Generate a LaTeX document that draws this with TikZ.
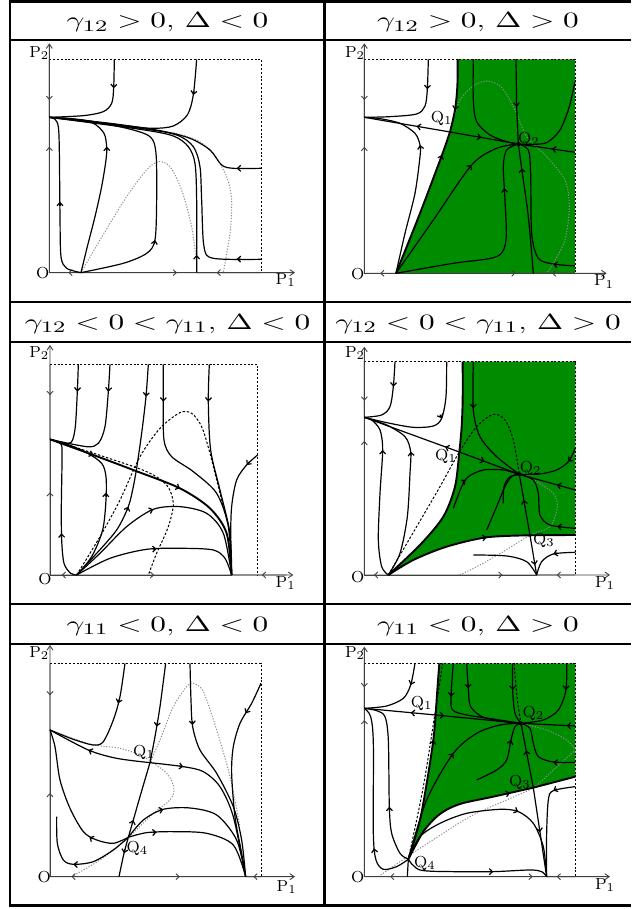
\documentclass[tikz,border=0pt]{standalone}
\usepackage{amsmath}
\usetikzlibrary{arrows.meta,decorations.markings}
\definecolor{basingreen}{RGB}{0,140,0}

\begin{document}
\begin{tikzpicture}[x=0.5pt,y=-0.5pt,
    rule/.style={line width=1.3pt},
    axis/.style={black!75,line width=0.45pt},
    axistip/.style={axis,-{Straight Barb[length=2.2pt,width=3pt]}},
    frame/.style={line width=0.4pt,dash pattern=on 1pt off 0.9pt},
    traj/.style={line width=0.6pt},
    sep/.style={line width=0.95pt},
    nullg/.style={black!45,line width=0.5pt,dash pattern=on 0.6pt off 0.8pt},
    nullk/.style={line width=0.5pt,dash pattern=on 1.2pt off 0.9pt},
    basin/.style={fill=basingreen},
    fw/.style={postaction={decorate,decoration={markings,
        mark=at position #1 with {\arrow{Straight Barb[length=1.6pt,width=3pt]}}}}},
    flowtip/.style={line width=0.6pt,-{Straight Barb[length=1.6pt,width=3pt]}},
    head/.style={font=\fontsize{11}{13}\selectfont,xscale=1.43,anchor=base},
    lbl/.style={font=\fontsize{8}{9}\selectfont,inner sep=0.5pt},
    eqpt/.style={circle,fill,inner sep=0pt,minimum size=2.2pt}
  ]
  \useasboundingbox (0,0) rectangle (631,909);

  % table
  \draw[rule] (10,0) -- (10,907);
  \draw[rule] (324.5,0) -- (324.5,907);
  \foreach \y in {1.5,40,302,342,604,644,905.5}
    \draw[rule] (10,\y) -- (631,\y);

  \node[head] (h1) at (167.5,28) {$\gamma_{12}>0$, $\Delta<0$};
  \node[head] (h2) at (478,28) {$\gamma_{12}>0$, $\Delta>0$};
  \node[head] (h3) at (167.5,329) {$\gamma_{12}<0<\gamma_{11}$, $\Delta<0$};
  \node[head] (h4) at (478,329) {$\gamma_{12}<0<\gamma_{11}$, $\Delta>0$};
  \node[head] (h5) at (167.5,631) {$\gamma_{11}<0$, $\Delta<0$};
  \node[head] (h6) at (478,631) {$\gamma_{11}<0$, $\Delta>0$};

  % panel 1
  \begin{scope}[scale=0.3333]
    \coordinate (a-O) at (148,818);
    \coordinate (a-E1) at (243,818);
    \coordinate (a-E2) at (148,352);
    \coordinate (a-E3) at (590,818);
    \draw[frame] (148,178) -- (783,178) -- (783,818);
    \draw[nullg] plot[smooth] coordinates {(a-E1) (300,720) (380,590) (440,510) (475,485) (510,500) (545,570) (575,680) (590,790)};
    \draw[nullg] plot[smooth] coordinates {(520,398) (590,420) (640,460) (680,530) (695,600) (690,700) (670,818)};
    \draw[axistip] (a-O) -- (148,130);
    \draw[axistip] (a-O) -- (885,818);
    \draw[axis,fw=0.7] (148,178) -- (a-E2);
    \draw[axis,fw=0.81] (a-O) -- (a-E2);
    \draw[axis,fw=0.4] (a-E1) -- (a-O);
    \draw[axis,fw=0.83] (a-E1) -- (a-E3);
    \draw[axis,fw=0.69] (783,818) -- (a-E3);
    \draw[traj] plot[smooth] coordinates {(343,178) (341,265) (335,310) (310,335) (250,347) (a-E2)};
    \draw[traj] plot[smooth] coordinates {(590,178) (580,285) (562,345) (520,378) (460,385) (380,378) (260,362) (a-E2)};
    \draw[traj] plot[smooth] coordinates {(783,505) (700,505) (665,495) (630,450) (570,415) (480,392) (330,370) (a-E2)};
    \draw[traj] plot[smooth] coordinates {(783,778) (640,775) (612,740) (605,600) (600,500) (580,440) (530,405) (420,385) (a-E2)};
    \draw[traj] plot[smooth] coordinates {(a-E3) (590,600) (585,490) (565,440) (520,408) (420,388) (a-E2)};
    \draw[traj] plot[smooth] coordinates {(a-E1) (370,790) (440,760) (465,720) (470,600) (468,460) (450,410) (380,385) (250,360) (a-E2)};
    \draw[traj] plot[smooth] coordinates {(a-E1) (262,740) (285,650) (305,560) (318,480) (320,440) (312,400) (280,370) (220,357) (a-E2)};
    \draw[traj] plot[smooth] coordinates {(a-E1) (200,805) (183,770) (180,650) (178,450) (175,380) (165,358) (a-E2)};
    \draw[flowtip] (341.5,253) -- (341,265);
    \draw[flowtip] (582,273) -- (580,285);
    \draw[flowtip] (722,505) -- (710,505);
    \draw[flowtip] (722,777.5) -- (710,777);
    \draw[flowtip] (590,777) -- (590,765);
    \draw[flowtip] (463,732) -- (465,720);
    \draw[flowtip] (320.5,452) -- (320,440);
    \draw[flowtip] (180,617) -- (180,605);
    \node[lbl] (a-Ol) at (128,820) {O};
    \node[lbl] (a-P2) at (118,160) {P$_2$};
    \node[lbl] (a-P1) at (857,840) {P$_1$};
  \end{scope}

  % panel 2
  \begin{scope}[shift={(320,0)},scale=0.3333]
    \coordinate (b-O) at (133,820);
    \coordinate (b-E1) at (228,820);
    \coordinate (b-E2) at (133,352);
    \coordinate (b-E3) at (640,820);
    \coordinate (b-Q1) at (390,396);
    \coordinate (b-Q2) at (595,432);
    \fill[basin] plot[smooth] coordinates {(b-E1) (300,640) (366,465) (b-Q1) (405,330) (412,260) (413,178)} -- (765,178) -- (765,820) -- cycle;
    \draw[frame] (133,178) -- (765,178) -- (765,820);
    \draw[nullg] plot[smooth] coordinates {(395,372) (420,300) (460,258) (500,243) (545,262) (585,330) (620,410) (680,470) (735,540) (748,620) (735,720) (700,790) (680,820)};
    \draw[axistip] (b-O) -- (133,130);
    \draw[axistip] (b-O) -- (860,820);
    \draw[axis,fw=0.7] (133,178) -- (b-E2);
    \draw[axis,fw=0.81] (b-O) -- (b-E2);
    \draw[axis,fw=0.5] (b-E1) -- (b-O);
    \draw[axis,fw=0.87] (b-E1) -- (b-E3);
    \draw[axis,fw=0.55] (765,820) -- (b-E3);
    \draw[sep] plot[smooth] coordinates {(413,178) (412,260) (405,330) (b-Q1)};
    \draw[sep] plot[smooth] coordinates {(b-E1) (300,640) (366,465) (b-Q1)};
    \draw[traj,fw=0.39] (b-Q1) -- (b-E2);
    \draw[traj,fw=0.46] (b-Q1) -- (b-Q2);
    \draw[traj,fw=0.41] (765,457) -- (b-Q2);
    \draw[traj] plot[smooth] coordinates {(325,178) (322,268) (315,318) (290,342) (210,350) (b-E2)};
    \draw[traj] plot[smooth] coordinates {(b-E1) (255,700) (285,580) (300,470) (300,435) (285,400) (240,370) (180,356) (b-E2)};
    \draw[traj] plot[smooth] coordinates {(460,178) (460,300) (470,365) (510,405) (560,425) (b-Q2)};
    \draw[traj,fw=0.56] (588,178) -- (590,320) -- (b-Q2);
    \draw[traj] plot[smooth] coordinates {(765,245) (748,320) (720,390) (680,428) (630,433) (b-Q2)};
    \draw[traj] plot[smooth] coordinates {(b-E1) (400,790) (530,770) (558,720) (555,600) (550,500) (560,450) (b-Q2)};
    \draw[traj] plot[smooth] coordinates {(b-E3) (625,650) (605,505) (b-Q2)};
    \draw[traj] plot[smooth] coordinates {(765,798) (700,792) (655,775) (635,700) (632,520) (625,450) (b-Q2)};
    \draw[traj] plot[smooth] coordinates {(b-E1) (340,660) (455,495) (530,445) (b-Q2)};
    \draw[flowtip] (407,318) -- (405,330);
    \draw[flowtip] (362,476) -- (366,465);
    \draw[flowtip] (322.5,256) -- (322,268);
    \draw[flowtip] (302,447) -- (300,435);
    \draw[flowtip] (554,577) -- (553,565);
    \draw[flowtip] (606.6,517) -- (605,505);
    \draw[flowtip] (712,794.5) -- (700,792);
    \draw[flowtip] (447,504) -- (455,495);
    \node[eqpt] (b-Q2d) at (b-Q2) {};
    \node[lbl] (b-Q1l) at (365,355) {Q$_1$};
    \node[lbl] (b-Q2l) at (627,418) {Q$_2$};
    \node[lbl] (b-Ol) at (113,822) {O};
    \node[lbl] (b-P2) at (105,160) {P$_2$};
    \node[lbl] (b-P1) at (852,845) {P$_1$};
  \end{scope}

  % panel 3
  \begin{scope}[shift={(0,300)},scale=0.3333]
    \coordinate (c-O) at (150,825);
    \coordinate (c-E1) at (230,825);
    \coordinate (c-E2) at (150,418);
    \coordinate (c-E3) at (695,825);
    \draw[frame] (150,193) -- (773,193) -- (773,825);
    \draw[nullk] plot[smooth] coordinates {(c-E1) (300,710) (360,600) (420,470) (480,385) (540,338) (575,340) (605,380) (630,460) (650,540) (675,640)};
    \draw[nullk] plot[smooth] coordinates {(c-E2) (300,466) (440,515) (500,555) (520,610) (505,680) (470,760) (445,825)};
    \draw[axistip] (c-O) -- (150,135);
    \draw[axistip] (c-O) -- (880,825);
    \draw[axis,fw=0.41] (150,193) -- (c-E2);
    \draw[axis,fw=0.61] (c-O) -- (c-E2);
    \draw[axis,fw=0.56] (c-E1) -- (c-O);
    \draw[axis,fw=0.5] (c-E1) -- (c-E3);
    \draw[axis,fw=0.45] (860,825) -- (c-E3);
    \draw[traj] plot[smooth] coordinates {(235,193) (232,275) (226,380) (215,425) (190,430) (c-E2)};
    \draw[traj] plot[smooth] coordinates {(330,193) (325,275) (315,380) (295,430) (260,440) (c-E2)};
    \draw[traj] plot[smooth] coordinates {(445,193) (438,290) (425,400) (410,505)};
    \draw[traj] plot[smooth] coordinates {(c-E1) (290,760) (350,690) (385,620) (400,560) (410,505)};
    \draw[traj] plot[smooth] coordinates {(490,193) (490,305) (492,420) (515,470) (580,515) (650,580) (685,680) (c-E3)};
    \draw[traj] plot[smooth] coordinates {(628,193) (625,305) (632,450) (660,570) (690,700) (c-E3)};
    \draw[sep] plot[smooth] coordinates {(c-E2) (280,465) (405,512) (540,565) (630,625) (680,700) (c-E3)};
    \draw[traj] plot[smooth] coordinates {(c-E1) (275,770) (308,690) (318,600) (318,530) (305,490) (260,458) (200,432) (c-E2)};
    \draw[traj] plot[smooth] coordinates {(c-E1) (212,820) (192,790) (185,720) (184,620) (186,480) (183,432) (c-E2)};
    \draw[traj] plot[smooth] coordinates {(c-E1) (300,760) (380,680) (460,628) (540,620) (620,640) (670,700) (c-E3)};
    \draw[traj] plot[smooth] coordinates {(c-E1) (330,775) (440,748) (550,745) (640,750) (675,775) (c-E3)};
    \draw[traj] plot[smooth] coordinates {(773,465) (740,495) (710,540) (695,620) (692,720) (c-E3)};
    \draw[flowtip] (232.5,263) -- (232,275);
    \draw[flowtip] (326,263) -- (325,275);
    \draw[flowtip] (439,278) -- (438,290);
    \draw[flowtip] (380.7,631) -- (385,620);
    \draw[flowtip] (490,293) -- (490,305);
    \draw[flowtip] (625.5,293) -- (625,305);
    \draw[flowtip] (269,461) -- (280,465);
    \draw[flowtip] (529,560) -- (540,565);
    \draw[flowtip] (317.5,590) -- (318,578);
    \draw[flowtip] (185,712) -- (184.5,700);
    \draw[flowtip] (449,632) -- (460,628);
    \draw[flowtip] (458,747.5) -- (470,747);
    \draw[flowtip] (747.7,485.8) -- (740,495);
    \node[lbl] (c-Ol) at (135,838) {O};
    \node[lbl] (c-P2) at (118,158) {P$_2$};
    \node[lbl] (c-P1) at (857,850) {P$_1$};
  \end{scope}

  % panel 4
  \begin{scope}[shift={(320,300)},scale=0.3333]
    \coordinate (d-O) at (133,825);
    \coordinate (d-E1) at (205,825);
    \coordinate (d-E2) at (133,352);
    \coordinate (d-E3) at (650,825);
    \coordinate (d-Q1) at (418,456);
    \coordinate (d-Q2) at (598,523);
    \coordinate (d-Q3) at (630,706);
    \fill[basin] plot[smooth] coordinates {(d-E1) (300,735) (370,650) (405,560) (d-Q1) (425,380) (428,300) (428,185)} -- (766,185) -- (766,705)
      -- plot[smooth] coordinates {(766,705) (d-Q3) (500,712) (380,740) (280,780) (d-E1)} -- cycle;
    \draw[frame] (133,185) -- (766,185) -- (766,825);
    \draw[nullk] plot[smooth] coordinates {(d-E1) (290,680) (360,560) (d-Q1) (470,380) (520,343) (555,360) (580,420) (d-Q2)};
    \draw[nullg] plot[smooth] coordinates {(d-Q2) (650,545) (700,580) (712,620) (690,680) (d-Q3) (550,755) (480,795) (420,825)};
    \draw[axistip] (d-O) -- (133,140);
    \draw[axistip] (d-O) -- (870,825);
    \draw[axis,fw=0.7] (133,185) -- (d-E2);
    \draw[axis,fw=0.85] (d-O) -- (d-E2);
    \draw[axis,fw=0.6] (d-E1) -- (d-O);
    \draw[axis,fw=0.77] (d-E1) -- (d-E3);
    \draw[axis,fw=0.48] (766,825) -- (d-E3);
    \draw[sep] plot[smooth] coordinates {(d-E1) (300,735) (370,650) (405,560) (d-Q1) (425,380) (428,300) (428,185)};
    \draw[sep] plot[smooth] coordinates {(d-E1) (280,780) (380,740) (500,712) (d-Q3)};
    \draw[sep] (766,705) -- (d-Q3);
    \draw[traj,fw=0.15] (d-Q1) -- (d-E2);
    \draw[traj,fw=0.42] (d-Q1) -- (d-Q2);
    \draw[traj,fw=0.33] (766,570) -- (d-Q2);
    \draw[traj,fw=0.58] (d-Q3) -- (d-Q2);
    \draw[traj,fw=0.75] (d-Q3) -- (d-E3);
    \draw[traj] plot[smooth] coordinates {(225,185) (220,260) (210,320) (185,345) (d-E2)};
    \draw[traj] plot[smooth] coordinates {(380,185) (378,290) (365,355) (340,378) (280,382) (200,368) (d-E2)};
    \draw[traj] plot[smooth] coordinates {(d-E1) (240,760) (262,650) (270,520) (272,455) (255,410) (200,375) (d-E2)};
    \draw[traj] plot[smooth] coordinates {(d-E1) (185,800) (175,720) (180,580) (188,450) (180,390) (155,360) (d-E2)};
    \draw[traj] plot[smooth] coordinates {(460,765) (560,768) (620,785) (d-E3)};
    \draw[traj] plot[smooth] coordinates {(766,757) (700,762) (665,785) (d-E3)};
    \draw[traj] plot[smooth] coordinates {(460,185) (460,330) (480,410) (530,470) (d-Q2)};
    \draw[traj] plot[smooth] coordinates {(766,445) (745,485) (710,510) (660,522) (d-Q2)};
    \draw[traj] plot[smooth] coordinates {(d-Q2) (640,540) (655,580) (660,645) (690,675) (766,685)};
    \draw[traj] plot[smooth] coordinates {(400,625) (425,560) (445,530) (490,510) (550,510) (d-Q2)};
    \draw[traj] plot[smooth] coordinates {(500,690) (530,620) (555,560) (575,530) (d-Q2)};
    \draw[traj] plot[smooth] coordinates {(550,610) (552,560) (570,530) (d-Q2)};
    \draw[flowtip] (488,713.6) -- (500,712);
    \draw[flowtip] (220.7,248) -- (220,260);
    \draw[flowtip] (360,344) -- (365,355);
    \draw[flowtip] (273.6,467) -- (272,455);
    \draw[flowtip] (188,462) -- (188,450);
    \draw[flowtip] (711.6,758.8) -- (700,762);
    \draw[flowtip] (460,313) -- (460,325);
    \draw[flowtip] (752.8,475.9) -- (745,485);
    \draw[flowtip] (724,681) -- (712,679);
    \draw[flowtip] (427.5,547.3) -- (437,540);
    \node[eqpt] (d-Q2d) at (d-Q2) {};
    \node[lbl] (d-Q1l) at (378,468) {Q$_1$};
    \node[lbl] (d-Q2l) at (632,505) {Q$_2$};
    \node[lbl] (d-Q3l) at (672,722) {Q$_3$};
    \node[lbl] (d-Ol) at (113,830) {O};
    \node[lbl] (d-P2) at (105,160) {P$_2$};
    \node[lbl] (d-P1) at (855,850) {P$_1$};
  \end{scope}

  % panel 5
  \begin{scope}[shift={(0,600)},scale=0.3333]
    \coordinate (e-O) at (150,830);
    \coordinate (e-E1) at (357,830);
    \coordinate (e-E2) at (150,390);
    \coordinate (e-E3) at (737,830);
    \coordinate (e-Q1) at (450,488);
    \coordinate (e-Q4) at (385,712);
    \draw[frame] (150,190) -- (783,190) -- (783,830);
    \draw[nullg] plot[smooth] coordinates {(e-E2) (270,432) (360,445) (430,470) (500,520) (522,565) (510,600) (460,640) (e-Q4) (300,780) (215,830)};
    \draw[nullg] plot[smooth] coordinates {(e-Q1) (480,420) (520,320) (560,260) (580,250) (610,275) (650,390) (690,530) (720,680)};
    \draw[axistip] (e-O) -- (150,135);
    \draw[axistip] (e-O) -- (885,830);
    \draw[axis,fw=0.48] (150,190) -- (e-E2);
    \draw[axis,fw=0.57] (e-O) -- (e-E2);
    \draw[axis,fw=0.69] (e-E1) -- (e-O);
    \draw[axis,fw=0.48] (e-E1) -- (e-E3);
    \draw[axis,fw=0.5] (783,830) -- (e-E3);
    \draw[traj] plot[smooth] coordinates {(375,190) (360,290) (340,360) (310,425) (280,435) (220,418) (e-E2)};
    \draw[traj] plot[smooth] coordinates {(497,190) (480,320) (465,410) (e-Q1)};
    \draw[traj] plot[smooth] coordinates {(e-Q4) (400,660) (420,590) (e-Q1)};
    \draw[traj] plot[smooth] coordinates {(e-Q4) (372,760) (e-E1)};
    \draw[traj] plot[smooth] coordinates {(570,190) (573,300) (578,380) (600,450) (650,520) (700,620) (725,720) (e-E3)};
    \draw[traj] plot[smooth] coordinates {(783,250) (755,310) (720,370) (700,440) (695,520) (705,650) (725,760) (e-E3)};
    \draw[traj] plot[smooth] coordinates {(e-Q1) (550,500) (610,515) (660,560) (700,650) (e-E3)};
    \draw[traj] plot[smooth] coordinates {(e-Q1) (350,475) (265,450) (e-E2)};
    \draw[traj] plot[smooth] coordinates {(e-Q4) (340,730) (290,720) (250,695) (210,625) (180,540) (165,440) (e-E2)};
    \draw[traj] plot[smooth] coordinates {(e-Q4) (340,750) (280,785) (220,793) (190,780) (172,730) (170,650)};
    \draw[traj] plot[smooth] coordinates {(e-Q4) (430,660) (490,628) (570,624) (650,645) (710,720) (e-E3)};
    \draw[traj] plot[smooth] coordinates {(e-Q4) (440,698) (520,695) (620,700) (700,735) (e-E3)};
    \draw[flowtip] (357.3,298.5) -- (354,310);
    \draw[flowtip] (472,368) -- (470,380);
    \draw[flowtip] (396.7,671.5) -- (400,660);
    \draw[flowtip] (374.8,748.3) -- (372,760);
    \draw[flowtip] (577,363) -- (578,375);
    \draw[flowtip] (743,329.6) -- (737,340);
    \draw[flowtip] (538,498) -- (550,500);
    \draw[flowtip] (276,454.7) -- (265,450);
    \draw[flowtip] (278,717) -- (268,711);
    \draw[flowtip] (232,793.7) -- (220,793);
    \draw[flowtip] (478.4,631) -- (490,628);
    \draw[flowtip] (458,697.5) -- (470,697);
    \node[lbl] (e-Q1l) at (432,456) {Q$_1$};
    \node[lbl] (e-Q4l) at (412,745) {Q$_4$};
    \node[lbl] (e-Ol) at (133,832) {O};
    \node[lbl] (e-P2) at (118,160) {P$_2$};
    \node[lbl] (e-P1) at (860,860) {P$_1$};
  \end{scope}

  % panel 6
  \begin{scope}[shift={(320,600)},scale=0.3333]
    \coordinate (f-O) at (133,830);
    \coordinate (f-E1) at (262,830);
    \coordinate (f-E2) at (133,325);
    \coordinate (f-E3) at (680,830);
    \coordinate (f-Q1) at (347,345);
    \coordinate (f-Q2) at (603,370);
    \coordinate (f-Q3) at (640,563);
    \coordinate (f-Q4) at (265,778);
    \fill[basin] plot[smooth] coordinates {(f-Q4) (300,660) (325,520) (340,420) (f-Q1) (352,270) (358,190)} -- (766,190) -- (766,530)
      -- plot[smooth] coordinates {(766,530) (f-Q3) (520,590) (420,612) (360,642) (310,695) (f-Q4)} -- cycle;
    \draw[frame] (133,190) -- (766,190) -- (766,830);
    \draw[nullk] plot[smooth] coordinates {(f-Q4) (310,560) (345,340) (368,190)};
    \draw[nullk] plot[smooth] coordinates {(582,190) (592,300) (f-Q2) (615,430)};
    \draw[nullg] plot[smooth] coordinates {(175,830) (300,745) (450,650) (560,600) (f-Q3) (700,510) (766,450)};
    \draw[nullg] plot[smooth] coordinates {(f-Q2) (680,390) (740,420) (766,450)};
    \draw[axistip] (f-O) -- (133,140);
    \draw[axistip] (f-O) -- (870,830);
    \draw[axis,fw=0.53] (133,190) -- (f-E2);
    \draw[axis,fw=0.93] (f-O) -- (f-E2);
    \draw[axis,fw=0.4] (f-E1) -- (f-O);
    \draw[axis,fw=0.9] (f-E1) -- (f-E3);
    \draw[axis,fw=0.65] (766,830) -- (f-E3);
    \draw[sep] plot[smooth] coordinates {(f-Q4) (300,660) (325,520) (340,420) (f-Q1)};
    \draw[sep] plot[smooth] coordinates {(358,190) (352,270) (f-Q1)};
    \draw[sep] plot[smooth] coordinates {(f-Q4) (310,695) (360,642) (420,612) (520,590) (f-Q3)};
    \draw[sep] (766,530) -- (f-Q3);
    \draw[traj,fw=0.35] (f-Q1) -- (f-E2);
    \draw[traj,fw=0.1] (f-Q1) -- (f-Q2);
    \draw[traj,fw=0.16] (766,378) -- (f-Q2);
    \draw[traj,fw=0.58] (f-Q3) -- (f-Q2);
    \draw[traj,fw=0.5] (f-Q3) -- (f-E3);
    \draw[traj] (f-Q4) -- (f-E1);
    \draw[traj] plot[smooth] coordinates {(285,190) (272,255) (250,295) (200,318) (f-E2)};
    \draw[traj] plot[smooth] coordinates {(f-Q4) (240,760) (215,700) (208,620) (205,420) (195,350) (170,332) (f-E2)};
    \draw[traj] plot[smooth] coordinates {(f-Q4) (230,800) (190,808) (168,780) (160,700) (160,430) (152,350) (f-E2)};
    \draw[traj] plot[smooth] coordinates {(f-Q4) (300,810) (400,815) (520,815) (630,810) (665,815) (f-E3)};
    \draw[traj] plot[smooth] coordinates {(f-Q4) (300,710) (360,670) (440,640) (540,628) (595,635) (640,670) (670,740) (f-E3)};
    \draw[traj] plot[smooth] coordinates {(766,560) (700,572) (685,600) (680,700) (f-E3)};
    \draw[traj] plot[smooth] coordinates {(400,190) (393,290) (398,330) (440,345) (520,357) (f-Q2)};
    \draw[traj] plot[smooth] coordinates {(440,190) (445,265) (452,320) (490,352) (550,364) (f-Q2)};
    \draw[traj] plot[smooth] coordinates {(578,190) (578,270) (585,340) (f-Q2)};
    \draw[traj] plot[smooth] coordinates {(740,190) (738,270) (715,330) (670,360) (f-Q2)};
    \draw[traj] plot[smooth] coordinates {(470,540) (530,510) (560,480) (573,420) (585,380) (f-Q2)};
    \draw[traj] plot[smooth] coordinates {(f-Q4) (320,600) (400,460) (470,400) (540,375) (f-Q2)};
    \draw[traj] plot[smooth] coordinates {(f-Q2) (630,385) (640,430) (655,470) (700,486) (766,487)};
    \draw[flowtip] (338.5,432) -- (340,420);
    \draw[flowtip] (558,581.6) -- (570,579);
    \draw[flowtip] (275.8,243.6) -- (272,255);
    \draw[flowtip] (208.4,632) -- (208,620);
    \draw[flowtip] (164,757) -- (162,745);
    \draw[flowtip] (508,815) -- (520,815);
    \draw[flowtip] (584,630.4) -- (595,635);
    \draw[flowtip] (710.8,566.7) -- (700,572);
    \draw[flowtip] (394,278) -- (393,290);
    \draw[flowtip] (444.5,253) -- (445,265);
    \draw[flowtip] (578,258) -- (578,270);
    \draw[flowtip] (738.3,258) -- (738,270);
    \draw[flowtip] (570,431.6) -- (573,420);
    \draw[flowtip] (392.8,469.6) -- (400,460);
    \draw[flowtip] (711.9,487.8) -- (700,486);
    \node[eqpt] (f-Q2d) at (f-Q2) {};
    \node[lbl] (f-Q1l) at (305,310) {Q$_1$};
    \node[lbl] (f-Q2l) at (640,340) {Q$_2$};
    \node[lbl] (f-Q3l) at (600,548) {Q$_3$};
    \node[lbl] (f-Q4l) at (315,790) {Q$_4$};
    \node[lbl] (f-Ol) at (113,832) {O};
    \node[lbl] (f-P2) at (105,160) {P$_2$};
    \node[lbl] (f-P1) at (855,855) {P$_1$};
  \end{scope}
\end{tikzpicture}
\end{document}
